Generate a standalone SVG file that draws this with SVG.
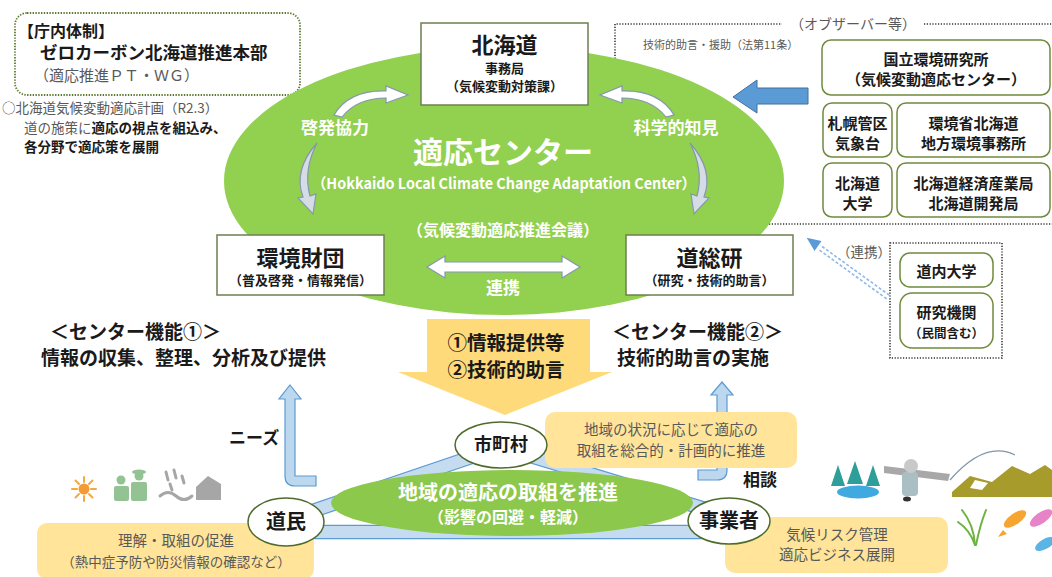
<svg xmlns="http://www.w3.org/2000/svg" width="1052" height="577" viewBox="0 0 1052 577">
  <style>
    text { font-family: "Noto Sans CJK JP", "Noto Sans", sans-serif; }
    .b { font-weight: bold; }
    .k { fill: #1a1a1a; }
    .w { fill: #ffffff; }
    .g { fill: #595959; }
    .mid { text-anchor: middle; }
    .box { fill: #ffffff; stroke: #6e7f52; stroke-width: 1.5; }
    .obs { fill: #ffffff; stroke: #6f8a3c; stroke-width: 1.5; }
    .node { fill: #ffffff; stroke: #4e6b2c; stroke-width: 1.5; }
    .yel { fill: #FFE49A; }
    .dots { fill: none; stroke: #333333; stroke-width: 1.6; stroke-dasharray: 1.2 1.6; }
    .wa { fill: #ffffff; stroke: #8497B0; stroke-width: 1.2; }
    .ga { fill: #D6DCE5; stroke: #8497B0; stroke-width: 1.2; }
    .ba { fill: #BDD7EE; stroke: #5B9BD5; stroke-width: 1.2; }
  </style>

  <rect x="0" y="0" width="1052" height="577" fill="#ffffff"/>

  <!-- internal organisation -->
  <g id="chonai">
    <rect x="15" y="13" width="285" height="82" rx="12" fill="none" stroke="#5e7a30" stroke-width="1.8" stroke-dasharray="1.4 1.4"/>
    <text x="18" y="37" font-size="16" class="b k">【庁内体制】</text>
    <text x="40" y="59" font-size="17.5" class="b k">ゼロカーボン北海道推進本部</text>
    <text x="34" y="81" font-size="15" class="g">（適応推進ＰＴ・ＷＧ）</text>
  </g>

  <g id="plan">
    <text x="2" y="113" font-size="13.5" class="g">○北海道気候変動適応計画（R2.3）</text>
    <text x="24" y="133" font-size="13.5"><tspan class="g">道の施策に</tspan><tspan class="b k">適応の視点を組込み、</tspan></text>
    <text x="24" y="152" font-size="13.5" class="b k">各分野で適応策を展開</text>
  </g>

  <!-- observers frame (partly under the center ellipse) -->
  <g id="observers-frame">
    <path class="dots" d="M615,224 V24 H782 M924,24 H1052 M615,224 H1052"/>
    <text x="853" y="29" font-size="14" class="g mid">（オブザーバー等）</text>
    <text x="643" y="49" font-size="11" class="g">技術的助言・援助（法第11条）</text>
  </g>

  <!-- adaptation center -->
  <g id="center">
    <ellipse cx="504" cy="181" rx="280" ry="134" fill="#92D050"/>
    <text x="335" y="134" font-size="17" class="b w mid">啓発協力</text>
    <text x="676" y="134" font-size="17" class="b w mid">科学的知見</text>
    <text x="503" y="163" font-size="30" class="b w mid">適応センター</text>
    <text x="312" y="189" font-size="15" class="b w" textLength="384" lengthAdjust="spacingAndGlyphs">（Hokkaido Local Climate Change Adaptation Center）</text>
    <text x="503" y="236" font-size="16" class="b w mid">（気候変動適応推進会議）</text>
    <text x="503" y="294" font-size="17" class="b w mid">連携</text>
  </g>

  <g id="connectors">
    <!-- curved arrows inside the center -->
    <path id="arrow-keihatsu" class="wa" d="M334,115 Q349,90 386,91 L386,86 L408,95 L386,103 L386,98 Q357,98 342,117 Z"/>
    <path id="arrow-kagaku" class="wa" transform="matrix(-1,0,0,1,1008,0)" d="M334,115 Q349,90 386,91 L386,86 L408,95 L386,103 L386,98 Q357,98 342,117 Z"/>
    <path id="arrow-left-down" class="ga" d="M317,143 Q293,170 303,197 L298,198 L313,214 L316,194 L310,196 Q303,170 317,143 Z"/>
    <path id="arrow-right-down" class="ga" transform="matrix(-1,0,0,1,1007,0)" d="M317,143 Q293,170 303,197 L298,198 L313,214 L316,194 L310,196 Q303,170 317,143 Z"/>
    <polygon id="arrow-renkei" class="wa" points="427,267 445,256 445,262 562,262 562,256 580,267 562,278 562,272 445,272 445,278"/>

    <!-- observers to center -->
    <polygon id="arrow-observers" fill="#5B9BD5" stroke="#41719C" stroke-width="1" points="733,97 757,80 757,88 808,88 808,104 757,104 757,113"/>

    <!-- universities / research to center (dashed double line) -->
    <g id="arrow-research">
      <line x1="889.3" y1="295.2" x2="820.3" y2="245.2" stroke="#8FB8E3" stroke-width="1.6" stroke-dasharray="3 2"/>
      <line x1="886.7" y1="298.8" x2="817.7" y2="248.8" stroke="#8FB8E3" stroke-width="1.6" stroke-dasharray="3 2"/>
      <polygon points="806.7,237.8 821.5,241.1 814.5,250.9" fill="#5B9BD5"/>
    </g>

    <!-- information / advice arrow -->
    <polygon id="arrow-support" fill="#FFDA7A" points="427,319 590,319 590,372 612,372 505,415 398,372 427,372"/>

    <!-- needs / consultation arrows -->
    <path id="arrow-needs" class="ba" d="M290,385 L301,399 L295,399 L295,476 L316,476 L316,486 L295,486 Q285,486 285,476 L285,399 L279,399 Z"/>
    <path id="arrow-soudan" class="ba" d="M722,382 L733,395 L727,395 L727,470 Q727,480 717,480 L698,480 L698,470 L717,470 L717,395 L711,395 Z"/>

    <!-- triangle of local actors -->
    <g id="triangle" fill="none" stroke-linecap="butt">
      <g stroke="#5B9BD5" stroke-width="14.5">
        <line x1="286" y1="520" x2="501" y2="447"/>
        <line x1="501" y1="447" x2="725" y2="515"/>
        <line x1="290" y1="532" x2="725" y2="532"/>
      </g>
      <g stroke="#C5DCF0" stroke-width="12">
        <line x1="286" y1="520" x2="501" y2="447"/>
        <line x1="501" y1="447" x2="725" y2="515"/>
        <line x1="290" y1="532" x2="725" y2="532"/>
      </g>
    </g>
  </g>

  <!-- member boxes of the center -->
  <g id="hokkaido">
    <rect class="box" x="421" y="23" width="167" height="82"/>
    <text x="504.5" y="53" font-size="22" class="b k mid">北海道</text>
    <text x="504.5" y="73" font-size="13" class="b k mid">事務局</text>
    <text x="504.5" y="91" font-size="13" class="b k mid">（気候変動対策課）</text>
  </g>
  <g id="kankyo-zaidan">
    <rect class="box" x="217" y="235" width="167" height="60"/>
    <text x="300.5" y="266" font-size="22" class="b k mid">環境財団</text>
    <text x="300.5" y="285" font-size="13" class="b k mid">（普及啓発・情報発信）</text>
  </g>
  <g id="dousouken">
    <rect class="box" x="626" y="235" width="167" height="60"/>
    <text x="709.5" y="266" font-size="22" class="b k mid">道総研</text>
    <text x="709.5" y="285" font-size="13" class="b k mid">（研究・技術的助言）</text>
  </g>

  <!-- observer organisations -->
  <g id="nies">
    <rect class="obs" x="822" y="40" width="228" height="55" rx="9"/>
    <text x="936" y="65" font-size="15" class="b k mid">国立環境研究所</text>
    <text x="936" y="85" font-size="15" class="b k mid">（気候変動適応センター）</text>
  </g>
  <g id="jma">
    <rect class="obs" x="823" y="103" width="69" height="54" rx="9"/>
    <text x="857.5" y="129" font-size="15" class="b k mid">札幌管区</text>
    <text x="857.5" y="149" font-size="15" class="b k mid">気象台</text>
  </g>
  <g id="moe">
    <rect class="obs" x="897" y="103" width="153" height="54" rx="9"/>
    <text x="973.5" y="129" font-size="15" class="b k mid">環境省北海道</text>
    <text x="973.5" y="149" font-size="15" class="b k mid">地方環境事務所</text>
  </g>
  <g id="hokudai">
    <rect class="obs" x="823" y="163" width="69" height="54" rx="9"/>
    <text x="857.5" y="189" font-size="15" class="b k mid">北海道</text>
    <text x="857.5" y="209" font-size="15" class="b k mid">大学</text>
  </g>
  <g id="meti">
    <rect class="obs" x="897" y="163" width="153" height="54" rx="9"/>
    <text x="973.5" y="189" font-size="15" class="b k mid">北海道経済産業局</text>
    <text x="973.5" y="209" font-size="15" class="b k mid">北海道開発局</text>
  </g>

  <!-- universities and research institutes -->
  <g id="research">
    <rect class="dots" x="890" y="243" width="112" height="115"/>
    <text x="837" y="257" font-size="13.5" class="g">（連携）</text>
    <rect class="obs" x="900" y="253" width="93" height="34" rx="10"/>
    <text x="946.5" y="277" font-size="15" class="b k mid">道内大学</text>
    <rect class="obs" x="900" y="293" width="93" height="55" rx="12"/>
    <text x="946.5" y="318" font-size="15" class="b k mid">研究機関</text>
    <text x="946.5" y="338" font-size="12.5" class="b k mid">（民間含む）</text>
  </g>

  <!-- center functions -->
  <g id="function1">
    <text x="50" y="339" font-size="19" class="b k">＜センター機能①＞</text>
    <text x="41" y="365" font-size="19" class="b k">情報の収集、整理、分析及び提供</text>
  </g>
  <g id="function2">
    <text x="612" y="339" font-size="19" class="b k">＜センター機能②＞</text>
    <text x="617" y="365" font-size="19" class="b k">技術的助言の実施</text>
  </g>
  <g id="support-label">
    <text x="506" y="350" font-size="19.5" class="b k mid">①情報提供等</text>
    <text x="506" y="377" font-size="19.5" class="b k mid">②技術的助言</text>
  </g>
  <text x="229" y="444" font-size="17" class="b k">ニーズ</text>
  <text x="743" y="486" font-size="17" class="b k">相談</text>

  <!-- local adaptation -->
  <g id="local-adaptation">
    <ellipse cx="512" cy="503" rx="181" ry="33" fill="#8CC84B"/>
    <text x="508" y="500" font-size="20" class="b w mid">地域の適応の取組を推進</text>
    <text x="508" y="523" font-size="16" class="b w mid">（影響の回避・軽減）</text>
  </g>

  <!-- role notes -->
  <g id="note-municipality">
    <rect class="yel" x="545" y="412" width="252" height="56" rx="10"/>
    <text x="671" y="435" font-size="14.5" class="g mid">地域の状況に応じて適応の</text>
    <text x="671" y="456" font-size="14.5" class="g mid">取組を総合的・計画的に推進</text>
  </g>
  <g id="note-citizens">
    <rect class="yel" x="37" y="523" width="277" height="56" rx="10"/>
    <text x="176" y="546" font-size="14.5" class="g mid">理解・取組の促進</text>
    <text x="176" y="567" font-size="13.5" class="g mid">（熱中症予防や防災情報の確認など）</text>
  </g>
  <g id="note-business">
    <rect class="yel" x="725" y="517" width="223" height="56" rx="10"/>
    <text x="837" y="540" font-size="14.5" class="g mid">気候リスク管理</text>
    <text x="837" y="560" font-size="14.5" class="g mid">適応ビジネス展開</text>
  </g>

  <!-- actors -->
  <g id="shichoson">
    <ellipse class="node" cx="501" cy="445" rx="46" ry="23"/>
    <text x="501" y="451" font-size="18" class="b k mid">市町村</text>
  </g>
  <g id="doumin">
    <ellipse class="node" cx="286" cy="522" rx="38" ry="24"/>
    <text x="286" y="529" font-size="20" class="b k mid">道民</text>
  </g>
  <g id="jigyousha">
    <ellipse class="node" cx="729" cy="521" rx="41" ry="23"/>
    <text x="729" y="528" font-size="20" class="b k mid">事業者</text>
  </g>

  <!-- small illustrations: heat, people, rain -->
  <g id="illust-left">
    <g stroke="#F5A742" stroke-width="2" stroke-linecap="round">
      <line x1="84" y1="477" x2="84" y2="482"/>
      <line x1="84" y1="496" x2="84" y2="501"/>
      <line x1="72" y1="489" x2="77" y2="489"/>
      <line x1="91" y1="489" x2="96" y2="489"/>
      <line x1="75.5" y1="480.5" x2="79" y2="484"/>
      <line x1="89" y1="494" x2="92.5" y2="497.5"/>
      <line x1="92.5" y1="480.5" x2="89" y2="484"/>
      <line x1="79" y1="494" x2="75.5" y2="497.5"/>
    </g>
    <circle cx="84" cy="489" r="5.5" fill="#F39C35"/>
    <g fill="#93C393">
      <circle cx="121" cy="480" r="4.5"/>
      <rect x="114" y="486" width="15" height="15" rx="2"/>
      <ellipse cx="139" cy="472" rx="7" ry="2.5"/>
      <circle cx="139" cy="476" r="4.5"/>
      <rect x="131" y="482" width="16" height="19" rx="2"/>
    </g>
    <g fill="none" stroke="#A6A6A6" stroke-width="3" stroke-linecap="round">
      <line x1="166" y1="472" x2="168" y2="480"/>
      <line x1="174" y1="470" x2="176" y2="478"/>
      <line x1="170" y1="484" x2="172" y2="490"/>
      <line x1="182" y1="476" x2="184" y2="483"/>
      <path d="M160,496 q8,-7 16,0 t16,0"/>
    </g>
    <polygon points="196,500 196,487 208,476 221,484 221,500" fill="#A6A6A6"/>
  </g>

  <!-- small illustrations: forest, fishing, fields, fish -->
  <g id="illust-right">
    <ellipse cx="858" cy="492" rx="21" ry="6.5" fill="#40A9DF"/>
    <g fill="#2E9E9A">
      <polygon points="838,465 831,486 845,486"/>
      <polygon points="855,461 847,484 863,484"/>
      <polygon points="873,465 866,486 880,486"/>
    </g>
    <polygon points="884,466 950,474 948,481 884,473" fill="#A8A8A8"/>
    <rect x="902" y="472" width="16" height="24" rx="4" fill="#A9BFC4"/>
    <circle cx="911" cy="466" r="7" fill="#C9C9C9"/>
    <ellipse cx="907" cy="499" rx="4" ry="2.5" fill="#333333"/>
    <path d="M950,480 Q985,440 1015,455" fill="none" stroke="#7F95A8" stroke-width="1.2"/>
    <polygon points="952,492 970,476 992,482 1012,466 1030,474 1045,465 1052,470 1052,497 952,497" fill="#A69B2B"/>
    <polygon points="975,480 988,483 982,490 970,488" fill="#ffffff"/>
    <g fill="none" stroke="#6DB33F" stroke-width="2" stroke-linecap="round">
      <path d="M975,545 Q974,525 962,510"/>
      <path d="M976,545 Q980,525 986,510"/>
      <path d="M975,545 Q970,530 958,522"/>
    </g>
    <g fill="#F7A531">
      <ellipse cx="1015" cy="519" rx="13" ry="5.5" transform="rotate(-35 1015 519)"/>
      <polygon points="1003,530 998,537 1007,534"/>
    </g>
    <g fill="#E783C7">
      <ellipse cx="1041" cy="518" rx="13" ry="5.5" transform="rotate(-35 1041 518)"/>
    </g>
    <g fill="#5AB4E5">
      <ellipse cx="1045" cy="544" rx="11" ry="5" transform="rotate(-30 1045 544)"/>
    </g>
  </g>
</svg>
